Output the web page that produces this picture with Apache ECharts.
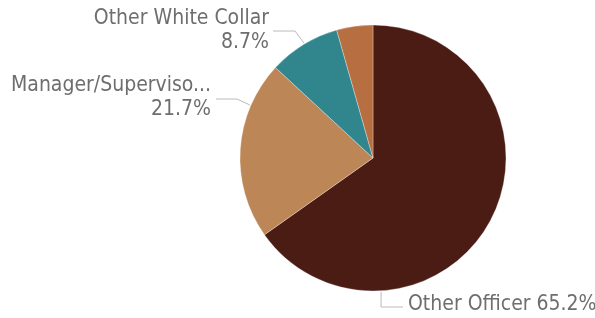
<!DOCTYPE html>
<html>
<head>
<meta charset="utf-8">
<script src="https://cdn.jsdelivr.net/npm/echarts@6/dist/echarts.min.js"></script>
<style>
  html, body, #main {
    margin: 0;
    padding: 0;
    width: 595px;
    height: 318px;
    overflow: hidden;
    background: #fff;
  }
</style>
</head>
<body>
<div id="main"></div>
<script>
// 数据
const categories = ["Other Officer", "Manager/Supervisor", "Other White Collar", "Other"];
const values = [65.2, 21.7, 8.7, 4.4];
const labelNames = ["Other Officer", "Manager/Superviso...", "Other White Collar", ""];
const colors = ["#4a1c13", "#bd8657", "#31868e", "#b76e41"];

// 饼图位置
const CX = 373, CY = 158, R = 133;

// 标签位置（每个扇区）：锚点角度（从12点顺时针），文字位置，对齐
const labelSpots = [
  { angle: 176.5, x: 408, y: 305, align: "left", bend: [[381, 307], [403, 307]] },
  { angle: 293.3, x: 211, y: 98, align: "right", bend: [[237, 99], [216, 99]] },
  { angle: 329, x: 269, y: 31, align: "right", bend: [[295, 31], [273, 31]] },
  null,
];

function edgePoint(deg) {
  const a = (deg * Math.PI) / 180;
  return [CX + (R + 1) * Math.sin(a), CY - (R + 1) * Math.cos(a)];
}

const myChart = echarts.init(document.getElementById("main"));

const option = {
  animation: false,
  color: colors,
  series: [
    {
      type: "pie",
      center: [CX, CY],
      radius: R,
      startAngle: 90,
      clockwise: true,
      itemStyle: {
        borderColor: "rgba(255,255,255,0.6)",
        borderWidth: 0.5,
      },
      label: {
        show: true,
        position: "outside",
        fontFamily: "DejaVu Sans Condensed",
        fontSize: 21,
        lineHeight: 24,
        color: "#6e6e6e",
        overflow: "none",
        formatter: (p) => {
          if (!labelNames[p.dataIndex]) return "";
          if (p.dataIndex === 0) return labelNames[0] + " " + p.value.toFixed(1) + "%";
          return labelNames[p.dataIndex] + "\n" + p.value.toFixed(1) + "%";
        },
      },
      labelLine: {
        show: true,
        lineStyle: { color: "#bababa", width: 1 },
      },
      labelLayout: (params) => {
        const s = labelSpots[params.dataIndex];
        if (!s) return { x: -100, y: -100 };
        return {
          x: s.x,
          y: s.y,
          align: s.align,
          verticalAlign: "middle",
          labelLinePoints: [edgePoint(s.angle), s.bend[0], s.bend[1]],
        };
      },
      data: categories.map((name, i) => ({
        name: name,
        value: values[i],
        label: { show: i < 3 },
        labelLine: { show: i < 3 },
      })),
    },
  ],
};

myChart.setOption(option);
window.onresize = myChart.resize;
</script>
</body>
</html>
